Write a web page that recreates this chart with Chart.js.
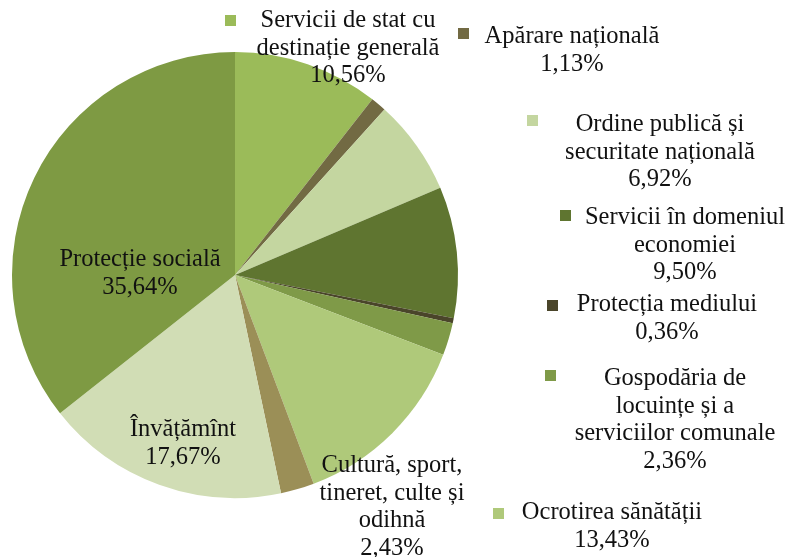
<!DOCTYPE html>
<html>
<head>
<meta charset="utf-8">
<script src="https://cdn.jsdelivr.net/npm/chart.js@4/dist/chart.umd.min.js"></script>
<style>
html,body{margin:0;padding:0;background:#fff;}
#wrap{width:792px;height:557px;position:relative;}
</style>
</head>
<body>
<div id="wrap"><canvas id="c" width="792" height="557"></canvas></div>
<script>
const categories = [
  ["Servicii de stat cu", "destinație generală"],
  ["Apărare națională"],
  ["Ordine publică și", "securitate națională"],
  ["Servicii în domeniul", "economiei"],
  ["Protecția mediului"],
  ["Gospodăria de", "locuințe și a", "serviciilor comunale"],
  ["Ocrotirea sănătății"],
  ["Cultură, sport,", "tineret, culte și", "odihnă"],
  ["Învățămînt"],
  ["Protecție socială"]
];
const shares = [10.56, 1.13, 6.92, 9.50, 0.36, 2.36, 13.43, 2.43, 17.67, 35.64];
const colors = ["#9BBB59", "#726A43", "#C4D6A0", "#5F7530", "#4A452A", "#7F9A48", "#AFC97A", "#9B8F57", "#D1DDB5", "#7E9A43"];

// label layout: text block centre x, first-line centre y, marker position (or null)
const labelLayout = [
  {x: 348, y: 21, marker: [225, 15]},
  {x: 572, y: 37, marker: [458, 28]},
  {x: 660, y: 125, marker: [527, 115]},
  {x: 685, y: 218, marker: [560, 210]},
  {x: 667, y: 305, marker: [547, 300]},
  {x: 675, y: 379, marker: [545, 370]},
  {x: 612, y: 513, marker: [493, 508]},
  {x: 392, y: 466, marker: null},
  {x: 183, y: 430, marker: null},
  {x: 140, y: 260, marker: null}
];

const fmt = v => v.toFixed(2).replace('.', ',') + '%';

const labelPlugin = {
  id: 'sliceLabels',
  afterDraw(chart) {
    const ctx = chart.ctx;
    ctx.save();
    ctx.font = '24.5px "Liberation Serif", serif';
    ctx.fillStyle = '#111';
    ctx.textAlign = 'center';
    ctx.textBaseline = 'middle';
    const lh = 27.5;
    categories.forEach((lines, i) => {
      const L = labelLayout[i];
      const all = lines.concat([fmt(shares[i])]);
      all.forEach((t, k) => ctx.fillText(t, L.x, L.y + k * lh));
      if (L.marker) {
        ctx.fillStyle = colors[i];
        ctx.fillRect(L.marker[0], L.marker[1], 11, 11);
        ctx.fillStyle = '#111';
      }
    });
    ctx.restore();
  }
};

new Chart(document.getElementById('c'), {
  type: 'pie',
  data: {
    labels: categories.map(l => l.join(' ')),
    datasets: [{
      data: shares,
      backgroundColor: colors,
      borderWidth: 0
    }]
  },
  options: {
    responsive: false,
    animation: false,
    layout: {padding: {left: 12, top: 52, right: 334, bottom: 59}},
    plugins: {legend: {display: false}, tooltip: {enabled: false}}
  },
  plugins: [labelPlugin]
});
</script>
</body>
</html>
